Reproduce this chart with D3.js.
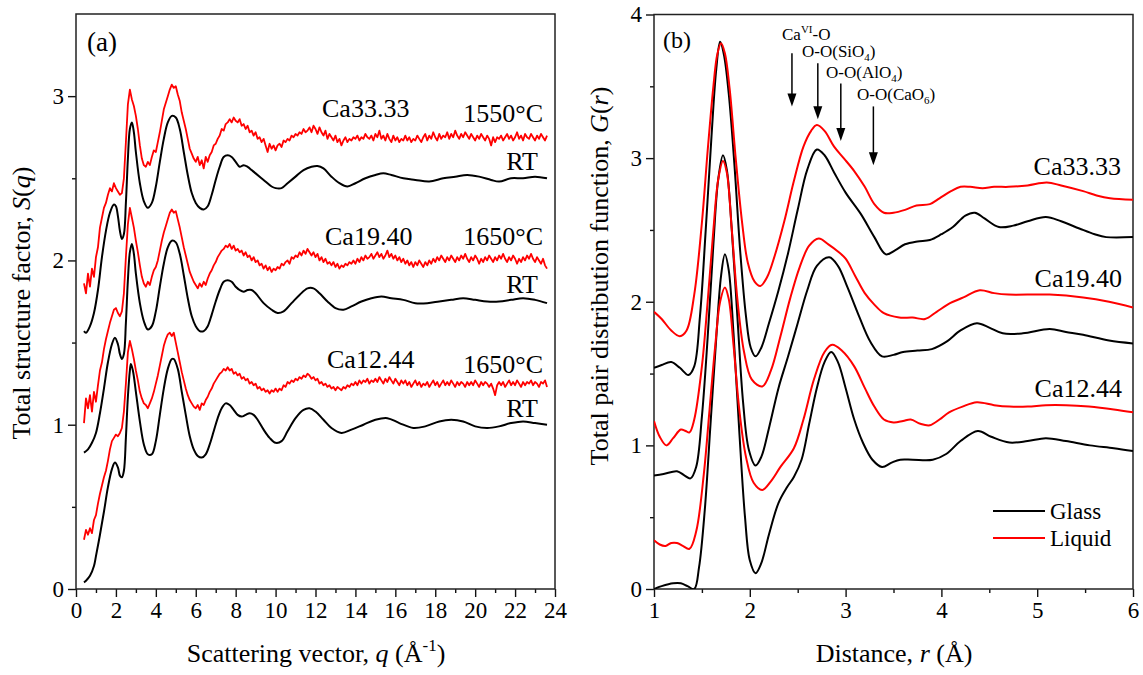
<!DOCTYPE html>
<html><head><meta charset="utf-8">
<script src="https://cdn.jsdelivr.net/npm/d3@7"></script>
<style>
body{margin:0;background:#fff}
svg{display:block}
text{font-family:"Liberation Serif","Times New Roman",serif;fill:#000}
</style>
</head><body>
<svg id="c" width="1143" height="675"></svg>
<script>
// ---------------- DATA : panel (a) S(q) ----------------
const xTicksA = [0,2,4,6,8,10,12,14,16,18,20,22,24];
const xMinorA = [1,3,5,7,9,11,13,15,17,19,21,23];
const yTicksA = [0,1,2,3];
const yMinorA = [0.5,1.5,2.5];

// glass (RT) curves: [q, S(q)]
const ca33RT = [[0.4,1.57],[0.5,1.56],[0.7,1.60],[0.9,1.68],[1.1,1.82],[1.3,2.02],[1.5,2.18],[1.7,2.29],[1.9,2.34],[2.0,2.33],[2.1,2.27],[2.2,2.18],[2.3,2.13],[2.4,2.16],[2.5,2.35],[2.6,2.62],[2.7,2.80],[2.8,2.84],[2.9,2.78],[3.0,2.66],[3.2,2.47],[3.4,2.36],[3.6,2.32],[3.8,2.35],[4.0,2.45],[4.2,2.60],[4.4,2.74],[4.6,2.84],[4.8,2.88],[5.0,2.87],[5.2,2.80],[5.4,2.66],[5.6,2.52],[5.8,2.41],[6.0,2.35],[6.2,2.32],[6.4,2.31],[6.6,2.33],[6.8,2.40],[7.0,2.49],[7.2,2.57],[7.4,2.63],[7.6,2.64],[7.8,2.63],[8.0,2.60],[8.2,2.57],[8.4,2.58],[8.6,2.57],[8.8,2.55],[9.0,2.53],[9.4,2.49],[9.8,2.45],[10.0,2.44],[10.3,2.44],[10.6,2.47],[11.0,2.51],[11.4,2.55],[11.8,2.57],[12.1,2.575],[12.4,2.56],[12.8,2.51],[13.2,2.47],[13.6,2.45],[14.0,2.47],[14.5,2.50],[15.0,2.52],[15.4,2.53],[15.8,2.52],[16.4,2.50],[17.0,2.49],[17.7,2.48],[18.4,2.50],[19.0,2.51],[19.6,2.52],[20.2,2.51],[20.8,2.49],[21.2,2.48],[21.8,2.50],[22.4,2.50],[23.0,2.51],[23.6,2.50]];
const ca19RT = [[0.4,0.83],[0.6,0.85],[0.8,0.89],[1.0,0.95],[1.2,1.07],[1.4,1.22],[1.6,1.38],[1.8,1.49],[1.95,1.53],[2.1,1.49],[2.2,1.43],[2.3,1.40],[2.4,1.43],[2.5,1.62],[2.6,1.88],[2.7,2.05],[2.8,2.10],[2.9,2.04],[3.0,1.92],[3.2,1.74],[3.4,1.63],[3.6,1.58],[3.8,1.60],[4.0,1.69],[4.2,1.84],[4.4,1.98],[4.6,2.08],[4.8,2.12],[5.0,2.11],[5.2,2.04],[5.4,1.91],[5.6,1.77],[5.8,1.66],[6.0,1.60],[6.2,1.57],[6.4,1.57],[6.6,1.60],[6.8,1.67],[7.0,1.75],[7.2,1.82],[7.4,1.87],[7.6,1.88],[7.8,1.87],[8.0,1.84],[8.2,1.82],[8.4,1.81],[8.6,1.82],[8.8,1.82],[9.0,1.80],[9.4,1.74],[9.8,1.70],[10.1,1.68],[10.4,1.69],[10.8,1.74],[11.2,1.79],[11.6,1.83],[11.9,1.83],[12.2,1.80],[12.6,1.75],[13.0,1.71],[13.4,1.70],[13.8,1.72],[14.3,1.75],[14.8,1.77],[15.3,1.78],[15.8,1.77],[16.4,1.76],[17.0,1.74],[17.6,1.74],[18.2,1.75],[18.8,1.76],[19.4,1.77],[20.0,1.76],[20.6,1.75],[21.2,1.75],[21.8,1.76],[22.4,1.77],[23.0,1.76],[23.6,1.74]];
const ca12RT = [[0.4,0.04],[0.5,0.05],[0.7,0.08],[0.9,0.14],[1.0,0.20],[1.2,0.33],[1.4,0.47],[1.6,0.62],[1.8,0.73],[1.95,0.77],[2.1,0.74],[2.2,0.69],[2.3,0.68],[2.4,0.72],[2.5,0.92],[2.6,1.17],[2.7,1.33],[2.75,1.37],[2.85,1.33],[3.0,1.20],[3.2,1.02],[3.4,0.88],[3.6,0.82],[3.8,0.82],[4.0,0.90],[4.2,1.06],[4.4,1.22],[4.6,1.34],[4.8,1.40],[4.9,1.40],[5.1,1.34],[5.3,1.20],[5.5,1.06],[5.7,0.93],[5.9,0.85],[6.1,0.81],[6.3,0.80],[6.5,0.82],[6.7,0.88],[6.9,0.96],[7.1,1.04],[7.3,1.10],[7.5,1.13],[7.7,1.12],[7.9,1.09],[8.1,1.06],[8.3,1.05],[8.5,1.06],[8.7,1.07],[8.9,1.06],[9.1,1.03],[9.4,0.97],[9.7,0.92],[10.0,0.89],[10.3,0.90],[10.6,0.96],[11.0,1.04],[11.4,1.09],[11.7,1.10],[12.0,1.08],[12.4,1.03],[12.8,0.98],[13.3,0.95],[13.8,0.97],[14.4,1.00],[15.0,1.03],[15.6,1.04],[16.2,1.01],[16.9,0.98],[17.5,0.99],[18.2,1.02],[18.8,1.03],[19.4,1.02],[20.0,0.99],[20.6,0.98],[21.2,0.99],[21.8,1.01],[22.4,1.02],[23.0,1.01],[23.6,1.00]];

// liquid curves: S(q) sampled every 0.1 from q = 0.4 to 23.6
const ca33Liq = [1.86,1.80,1.92,1.84,1.95,1.90,2.02,2.08,2.20,2.26,
2.32,2.35,2.40,2.44,2.42,2.47,2.44,2.42,2.40,2.41,
2.50,2.72,2.95,3.04,2.98,2.94,2.88,2.80,2.70,2.62,
2.58,2.57,2.60,2.58,2.63,2.67,2.66,2.72,2.78,2.85,
2.92,2.96,3.00,3.04,3.07,3.05,3.06,3.01,2.97,2.90,
2.85,2.80,2.74,2.68,2.65,2.62,2.60,2.63,2.58,2.61,
2.56,2.63,2.60,2.64,2.66,2.70,2.71,2.74,2.76,2.80,
2.79,2.83,2.84,2.86,2.84,2.87,2.85,2.84,2.86,2.82,
2.83,2.80,2.82,2.78,2.79,2.76,2.78,2.74,2.75,2.72,
2.74,2.70,2.66,2.71,2.68,2.70,2.67,2.70,2.71,2.69,
2.73,2.72,2.74,2.73,2.76,2.75,2.77,2.76,2.78,2.77,
2.80,2.78,2.79,2.81,2.78,2.82,2.80,2.77,2.81,2.78,
2.76,2.79,2.74,2.77,2.75,2.73,2.76,2.72,2.74,2.70,
2.73,2.75,2.72,2.74,2.73,2.75,2.74,2.76,2.73,2.75,
2.74,2.77,2.75,2.74,2.76,2.73,2.77,2.75,2.79,2.74,
2.76,2.73,2.77,2.74,2.72,2.76,2.73,2.75,2.72,2.74,
2.73,2.76,2.73,2.75,2.72,2.74,2.73,2.76,2.74,2.72,
2.75,2.77,2.73,2.76,2.74,2.78,2.75,2.73,2.77,2.74,
2.76,2.75,2.78,2.74,2.77,2.75,2.79,2.76,2.74,2.77,
2.75,2.78,2.76,2.74,2.77,2.75,2.73,2.76,2.74,2.77,
2.75,2.73,2.76,2.74,2.70,2.75,2.72,2.75,2.74,2.76,
2.73,2.75,2.77,2.74,2.76,2.73,2.75,2.78,2.74,2.76,
2.73,2.77,2.75,2.74,2.77,2.75,2.73,2.76,2.74,2.77,
2.75,2.73,2.76];
const ca19Liq = [1.01,1.16,1.10,1.18,1.08,1.20,1.14,1.24,1.33,1.38,
1.46,1.52,1.57,1.62,1.66,1.70,1.71,1.68,1.66,1.69,
1.80,2.02,2.22,2.32,2.26,2.20,2.12,2.05,1.97,1.90,
1.86,1.84,1.87,1.85,1.90,1.94,1.96,2.00,2.06,2.12,
2.17,2.21,2.25,2.29,2.31,2.29,2.30,2.25,2.20,2.14,
2.08,2.03,1.98,1.93,1.90,1.87,1.85,1.83,1.86,1.84,
1.87,1.85,1.89,1.92,1.94,1.97,1.99,2.02,2.04,2.06,
2.07,2.09,2.08,2.10,2.07,2.09,2.06,2.07,2.05,2.06,
2.03,2.05,2.02,2.03,2.00,2.02,1.99,2.00,1.97,1.98,
1.95,1.97,1.94,1.96,1.93,1.95,1.94,1.96,1.95,1.98,
1.97,1.99,2.00,1.98,2.02,2.01,2.03,2.02,2.05,2.03,
2.06,2.04,2.07,2.05,2.03,2.05,2.02,2.04,2.00,2.02,
1.99,2.01,1.98,1.99,1.97,1.99,1.96,1.98,1.95,1.97,
1.96,1.98,1.97,1.99,1.98,2.00,1.98,2.01,1.99,2.02,
2.00,2.03,2.01,2.02,2.04,2.01,2.03,2.05,2.02,2.04,
2.01,2.03,2.06,2.02,2.04,2.01,2.03,2.00,2.02,1.99,
2.01,1.98,2.00,1.97,1.99,1.96,1.99,1.97,2.00,1.98,
1.96,1.99,1.97,2.00,1.98,2.01,1.99,2.02,2.00,2.03,
2.01,1.99,2.02,2.00,2.03,2.01,1.99,2.02,2.00,2.03,
2.01,2.04,2.01,1.99,2.02,2.00,2.03,2.01,1.98,2.01,
1.99,2.02,2.00,2.03,2.01,1.99,2.02,2.00,2.03,2.01,
2.04,2.01,1.99,2.02,2.00,2.03,2.01,1.98,2.01,1.99,
2.02,2.00,2.03,2.01,2.04,2.01,1.99,2.02,2.00,1.98,
2.01,1.97,1.95];
const ca12Liq = [0.30,0.36,0.33,0.37,0.34,0.42,0.45,0.52,0.58,0.63,
0.68,0.72,0.78,0.85,0.90,0.92,0.94,0.93,0.95,0.98,
1.08,1.25,1.44,1.51,1.46,1.40,1.33,1.27,1.20,1.16,
1.13,1.12,1.10,1.13,1.16,1.20,1.25,1.30,1.36,1.42,
1.48,1.52,1.55,1.56,1.54,1.56,1.50,1.44,1.38,1.32,
1.27,1.22,1.18,1.15,1.13,1.11,1.10,1.12,1.09,1.13,
1.12,1.15,1.17,1.20,1.22,1.25,1.27,1.29,1.31,1.32,
1.34,1.33,1.35,1.33,1.34,1.31,1.32,1.30,1.31,1.28,
1.29,1.27,1.28,1.25,1.26,1.24,1.25,1.22,1.23,1.21,
1.22,1.20,1.21,1.19,1.21,1.20,1.22,1.20,1.22,1.21,
1.24,1.23,1.26,1.25,1.27,1.26,1.28,1.27,1.29,1.28,
1.30,1.29,1.31,1.30,1.28,1.29,1.27,1.28,1.25,1.26,
1.24,1.25,1.23,1.24,1.22,1.23,1.21,1.23,1.22,1.21,
1.23,1.22,1.24,1.23,1.25,1.24,1.26,1.24,1.27,1.25,
1.27,1.26,1.28,1.25,1.27,1.26,1.28,1.26,1.29,1.27,
1.25,1.28,1.26,1.29,1.27,1.25,1.28,1.26,1.24,1.27,
1.25,1.27,1.24,1.26,1.23,1.25,1.27,1.24,1.26,1.23,
1.25,1.24,1.26,1.23,1.25,1.27,1.24,1.26,1.23,1.25,
1.27,1.24,1.26,1.24,1.27,1.25,1.23,1.26,1.24,1.26,
1.25,1.23,1.26,1.24,1.26,1.24,1.27,1.25,1.23,1.26,
1.24,1.26,1.25,1.23,1.25,1.22,1.18,1.24,1.26,1.24,
1.26,1.23,1.25,1.27,1.24,1.26,1.24,1.27,1.25,1.23,
1.26,1.24,1.26,1.25,1.27,1.24,1.26,1.25,1.23,1.26,
1.25,1.27,1.23];
const qLiqStart = 0.4, qLiqStep = 0.1;

const labelsA = [
  {name:"Ca33.33", temp:"1550°C"},
  {name:"Ca19.40", temp:"1650°C"},
  {name:"Ca12.44", temp:"1650°C"}
];

// ---------------- DATA : panel (b) G(r) ----------------
const xTicksB = [1,2,3,4,5,6];
const xMinorB = [1.5,2.5,3.5,4.5,5.5];
const yTicksB = [0,1,2,3,4];
const yMinorB = [0.5,1.5,2.5,3.5];

const g33Glass = [[1.00,1.54],[1.08,1.56],[1.18,1.58],[1.27,1.54],[1.36,1.49],[1.42,1.55],[1.48,1.90],[1.54,2.50],[1.60,3.15],[1.65,3.62],[1.69,3.81],[1.73,3.72],[1.78,3.45],[1.84,2.95],[1.90,2.35],[1.96,1.90],[2.01,1.68],[2.06,1.62],[2.12,1.68],[2.20,1.85],[2.30,2.08],[2.40,2.34],[2.50,2.64],[2.60,2.92],[2.70,3.06],[2.78,3.02],[2.88,2.90],[3.00,2.76],[3.16,2.61],[3.30,2.45],[3.42,2.33],[3.52,2.36],[3.62,2.40],[3.75,2.42],[3.88,2.43],[4.00,2.47],[4.12,2.52],[4.25,2.60],[4.35,2.62],[4.45,2.58],[4.60,2.52],[4.75,2.53],[4.90,2.56],[5.09,2.59],[5.25,2.56],[5.44,2.51],[5.60,2.47],[5.72,2.45],[6.00,2.45]];
const g33Liq = [[1.00,1.93],[1.08,1.88],[1.18,1.80],[1.27,1.76],[1.34,1.80],[1.42,2.05],[1.50,2.55],[1.56,3.05],[1.62,3.50],[1.66,3.72],[1.70,3.80],[1.74,3.73],[1.79,3.48],[1.85,3.02],[1.92,2.55],[1.98,2.27],[2.05,2.14],[2.11,2.11],[2.18,2.17],[2.26,2.32],[2.36,2.56],[2.46,2.84],[2.56,3.08],[2.64,3.19],[2.70,3.23],[2.78,3.19],[2.88,3.08],[2.98,3.00],[3.09,2.91],[3.20,2.80],[3.30,2.68],[3.40,2.62],[3.50,2.62],[3.62,2.64],[3.74,2.67],[3.88,2.68],[3.98,2.72],[4.10,2.77],[4.20,2.80],[4.30,2.80],[4.43,2.79],[4.55,2.80],[4.70,2.80],[4.90,2.81],[5.10,2.83],[5.25,2.81],[5.48,2.77],[5.62,2.74],[5.76,2.72],[6.00,2.71]];
const g19Glass = [[1.00,0.79],[1.10,0.80],[1.24,0.82],[1.32,0.79],[1.38,0.77],[1.44,0.85],[1.50,1.20],[1.56,1.75],[1.62,2.40],[1.67,2.85],[1.72,3.02],[1.76,2.92],[1.81,2.52],[1.87,1.90],[1.93,1.30],[1.99,0.97],[2.06,0.86],[2.12,0.92],[2.20,1.12],[2.30,1.40],[2.40,1.62],[2.50,1.85],[2.60,2.08],[2.70,2.25],[2.83,2.31],[2.92,2.25],[3.02,2.10],[3.14,1.90],[3.26,1.72],[3.38,1.62],[3.50,1.63],[3.60,1.65],[3.75,1.66],[3.90,1.67],[4.05,1.72],[4.20,1.80],[4.37,1.85],[4.50,1.82],[4.64,1.78],[4.85,1.78],[5.13,1.81],[5.30,1.79],[5.48,1.77],[5.75,1.73],[6.00,1.71]];
const g19Liq = [[1.00,1.17],[1.06,1.06],[1.13,1.00],[1.20,1.05],[1.28,1.11],[1.33,1.10],[1.37,1.09],[1.42,1.18],[1.50,1.55],[1.56,2.00],[1.62,2.50],[1.67,2.85],[1.72,2.98],[1.76,2.90],[1.81,2.52],[1.87,2.02],[1.94,1.65],[2.02,1.46],[2.13,1.41],[2.22,1.52],[2.32,1.76],[2.42,2.02],[2.52,2.24],[2.62,2.39],[2.72,2.44],[2.82,2.40],[2.92,2.35],[3.00,2.30],[3.10,2.18],[3.20,2.06],[3.30,1.98],[3.40,1.92],[3.56,1.89],[3.70,1.89],[3.83,1.88],[3.95,1.93],[4.09,1.99],[4.23,2.03],[4.40,2.08],[4.55,2.06],[4.70,2.05],[5.13,2.05],[5.48,2.03],[5.75,2.00],[6.00,1.96]];
const g12Glass = [[1.00,0.00],[1.08,0.02],[1.20,0.04],[1.28,0.04],[1.35,0.02],[1.42,0.00],[1.47,0.15],[1.53,0.55],[1.59,1.15],[1.65,1.75],[1.70,2.18],[1.74,2.33],[1.78,2.22],[1.83,1.78],[1.89,1.10],[1.95,0.50],[2.00,0.20],[2.06,0.11],[2.12,0.18],[2.20,0.38],[2.30,0.60],[2.39,0.71],[2.46,0.78],[2.54,0.90],[2.62,1.15],[2.70,1.40],[2.78,1.58],[2.85,1.65],[2.92,1.58],[3.00,1.40],[3.09,1.18],[3.18,1.02],[3.28,0.90],[3.38,0.85],[3.48,0.88],[3.57,0.90],[3.70,0.90],[3.91,0.90],[4.05,0.94],[4.20,1.03],[4.38,1.10],[4.52,1.06],[4.71,1.02],[4.90,1.03],[5.09,1.05],[5.30,1.03],[5.55,1.00],[5.80,0.98],[6.00,0.96]];
const g12Liq = [[1.00,0.34],[1.06,0.31],[1.12,0.30],[1.18,0.32],[1.24,0.32],[1.30,0.30],[1.37,0.28],[1.44,0.40],[1.52,0.80],[1.58,1.25],[1.64,1.70],[1.69,2.00],[1.74,2.10],[1.78,2.02],[1.83,1.70],[1.89,1.25],[1.96,0.92],[2.04,0.74],[2.13,0.69],[2.22,0.75],[2.32,0.85],[2.46,0.98],[2.56,1.18],[2.67,1.46],[2.78,1.65],[2.86,1.70],[2.96,1.66],[3.09,1.55],[3.20,1.40],[3.30,1.27],[3.40,1.18],[3.50,1.16],[3.60,1.17],[3.68,1.18],[3.78,1.15],[3.88,1.14],[3.98,1.18],[4.08,1.23],[4.22,1.27],[4.37,1.30],[4.55,1.28],[4.71,1.27],[4.90,1.27],[5.09,1.28],[5.30,1.28],[5.54,1.27],[5.80,1.25],[6.00,1.23]];

const sampleNamesB = ["Ca33.33","Ca19.40","Ca12.44"];
// arrow annotations: r position, arrow top / tip in G units
const arrowR   = [2.44, 2.71, 2.95, 3.29];
const arrowTop = [3.73, 3.66, 3.52, 3.36];
const arrowTip = [3.36, 3.27, 3.12, 2.95];
const legendItems = [{label:"Glass", color:"#000"},{label:"Liquid", color:"#ff0000"}];

// ---------------- DRAW ----------------
const svg = d3.select("#c");
const FONT = '"Liberation Serif","Times New Roman",serif';
const RED = "#ff0000", BLACK = "#000";

const xA = d3.scaleLinear().domain([0,24]).range([76,555]);
const yA = d3.scaleLinear().domain([0,3.5]).range([589,14]);
const xB = d3.scaleLinear().domain([1,6]).range([654,1133]);
const yB = d3.scaleLinear().domain([0,4]).range([589,14.5]);

function axes(x, y, xt, xm, yt, ym) {
  const [x0,x1] = x.range(), [y0,y1] = y.range();
  const gx = svg.append("g").attr("transform",`translate(0,${y0})`)
    .call(d3.axisBottom(x).tickValues(xt).tickSize(8).tickPadding(5).tickFormat(d3.format("d")));
  const gxm = svg.append("g").attr("transform",`translate(0,${y0})`)
    .call(d3.axisBottom(x).tickValues(xm).tickSize(4).tickFormat(""));
  const gy = svg.append("g").attr("transform",`translate(${x0},0)`)
    .call(d3.axisLeft(y).tickValues(yt).tickSize(8).tickPadding(4).tickFormat(d3.format("d")));
  const gym = svg.append("g").attr("transform",`translate(${x0},0)`)
    .call(d3.axisLeft(y).tickValues(ym).tickSize(4).tickFormat(""));
  [gx,gxm,gy,gym].forEach(g=>{
    g.select(".domain").remove();
    g.attr("font-family",FONT).attr("font-size",23);
    g.selectAll("line").attr("stroke","#111").attr("stroke-width",1.4);
    g.selectAll("text").attr("fill","#000");
  });
  svg.append("rect").attr("x",x0).attr("y",y1).attr("width",x1-x0).attr("height",y0-y1)
    .attr("fill","none").attr("stroke","#222").attr("stroke-width",1.5);
}

// clip paths
const defs = svg.append("defs");
defs.append("clipPath").attr("id","clipA").append("rect").attr("x",76).attr("y",14).attr("width",479).attr("height",575);
defs.append("clipPath").attr("id","clipB").append("rect").attr("x",654).attr("y",14.5).attr("width",479).attr("height",574.5);

// ---- panel (a)
axes(xA, yA, xTicksA, xMinorA, yTicksA, yMinorA);
const lineA = d3.line().x(d=>xA(d[0])).y(d=>yA(d[1])).curve(d3.curveCatmullRom.alpha(0.5));
const lineALin = d3.line().x(d=>xA(d[0])).y(d=>yA(d[1]));
const gA = svg.append("g").attr("clip-path","url(#clipA)");
const liqPairs = arr => arr.map((v,i)=>[qLiqStart + qLiqStep*i, v]);
[ca33Liq, ca19Liq, ca12Liq].forEach(arr=>{
  gA.append("path").attr("d",lineALin(liqPairs(arr))).attr("fill","none").attr("stroke",RED).attr("stroke-width",1.8).attr("stroke-linejoin","round");
});
[ca33RT, ca19RT, ca12RT].forEach(arr=>{
  gA.append("path").attr("d",lineA(arr)).attr("fill","none").attr("stroke",BLACK).attr("stroke-width",2);
});

// labels panel (a)
const labA = [
  {name:[322,117], temp:[543,122], rt:[538,170]},
  {name:[325,245], temp:[543,245], rt:[538,293]},
  {name:[327,368], temp:[543,373], rt:[538,417]}
];
labelsA.forEach((l,i)=>{
  const p = labA[i];
  svg.append("text").attr("x",p.name[0]).attr("y",p.name[1]).attr("font-size",26).text(l.name);
  svg.append("text").attr("x",p.temp[0]).attr("y",p.temp[1]).attr("font-size",26).attr("text-anchor","end").text(l.temp);
  svg.append("text").attr("x",p.rt[0]).attr("y",p.rt[1]).attr("font-size",26).attr("text-anchor","end").text("RT");
});
svg.append("text").attr("x",87).attr("y",51).attr("font-size",27).text("(a)");

// axis titles (a)
{
  const t = svg.append("text").attr("x",316).attr("y",662).attr("font-size",26).attr("text-anchor","middle");
  t.append("tspan").text("Scattering vector, ");
  t.append("tspan").attr("font-style","italic").text("q");
  t.append("tspan").text(" (Å");
  t.append("tspan").attr("font-size",17).attr("dy",-11).text("-1");
  t.append("tspan").attr("dy",11).text(")");
  const ty = svg.append("text").attr("transform","translate(30,303) rotate(-90)").attr("font-size",26).attr("text-anchor","middle");
  ty.append("tspan").text("Total structure factor, ");
  ty.append("tspan").attr("font-style","italic").text("S");
  ty.append("tspan").text("(");
  ty.append("tspan").attr("font-style","italic").text("q");
  ty.append("tspan").text(")");
}

// ---- panel (b)
axes(xB, yB, xTicksB, xMinorB, yTicksB, yMinorB);
const lineB = d3.line().x(d=>xB(d[0])).y(d=>yB(d[1])).curve(d3.curveCatmullRom.alpha(0.5));
const gB = svg.append("g").attr("clip-path","url(#clipB)");
[[g33Glass,BLACK],[g33Liq,RED],[g19Glass,BLACK],[g19Liq,RED],[g12Glass,BLACK],[g12Liq,RED]].forEach(([arr,c])=>{
  gB.append("path").attr("d",lineB(arr)).attr("fill","none").attr("stroke",c).attr("stroke-width",2);
});
const labBpos = [[1121,175],[1122,287],[1122,397]];
sampleNamesB.forEach((n,i)=>{
  svg.append("text").attr("x",labBpos[i][0]).attr("y",labBpos[i][1]).attr("font-size",26).attr("text-anchor","end").text(n);
});
svg.append("text").attr("x",663).attr("y",48).attr("font-size",24).text("(b)");

// arrows
arrowR.forEach((r,i)=>{
  const x = xB(r), yt = yB(arrowTop[i]), yp = yB(arrowTip[i]);
  svg.append("line").attr("x1",x).attr("x2",x).attr("y1",yt).attr("y2",yp-10).attr("stroke","#000").attr("stroke-width",1.5);
  svg.append("path").attr("d",`M${x-4.5},${yp-13}L${x+4.5},${yp-13}L${x},${yp}Z`).attr("fill","#000");
});
// arrow labels
const annFS = 17;
{
  const t1 = svg.append("text").attr("x",782).attr("y",40).attr("font-size",annFS);
  t1.append("tspan").text("Ca");
  t1.append("tspan").attr("font-size",11).attr("dy",-7).text("VI");
  t1.append("tspan").attr("dy",7).text("-O");
  const mk = (x,y,main,sub)=>{
    const t = svg.append("text").attr("x",x).attr("y",y).attr("font-size",annFS);
    t.append("tspan").text(main);
    t.append("tspan").attr("font-size",11).attr("dy",4).text(sub);
    t.append("tspan").attr("dy",-4).text(")");
  };
  mk(802,57,"O-O(SiO","4");
  mk(826,78,"O-O(AlO","4");
  mk(857,100,"O-O(CaO","6");
}

// legend
legendItems.forEach((l,i)=>{
  const y = 511 + i*27;
  svg.append("line").attr("x1",993).attr("x2",1045).attr("y1",y).attr("y2",y).attr("stroke",l.color).attr("stroke-width",2);
  svg.append("text").attr("x",1050).attr("y",y+8).attr("font-size",23).text(l.label);
});

// axis titles (b)
{
  const t = svg.append("text").attr("x",894).attr("y",662).attr("font-size",26).attr("text-anchor","middle");
  t.append("tspan").text("Distance, ");
  t.append("tspan").attr("font-style","italic").text("r");
  t.append("tspan").text(" (Å)");
  const ty = svg.append("text").attr("transform","translate(608,276) rotate(-90)").attr("font-size",26).attr("text-anchor","middle");
  ty.append("tspan").text("Total pair distribution function, ");
  ty.append("tspan").attr("font-style","italic").text("G");
  ty.append("tspan").text("(");
  ty.append("tspan").attr("font-style","italic").text("r");
  ty.append("tspan").text(")");
}
</script>
</body></html>
